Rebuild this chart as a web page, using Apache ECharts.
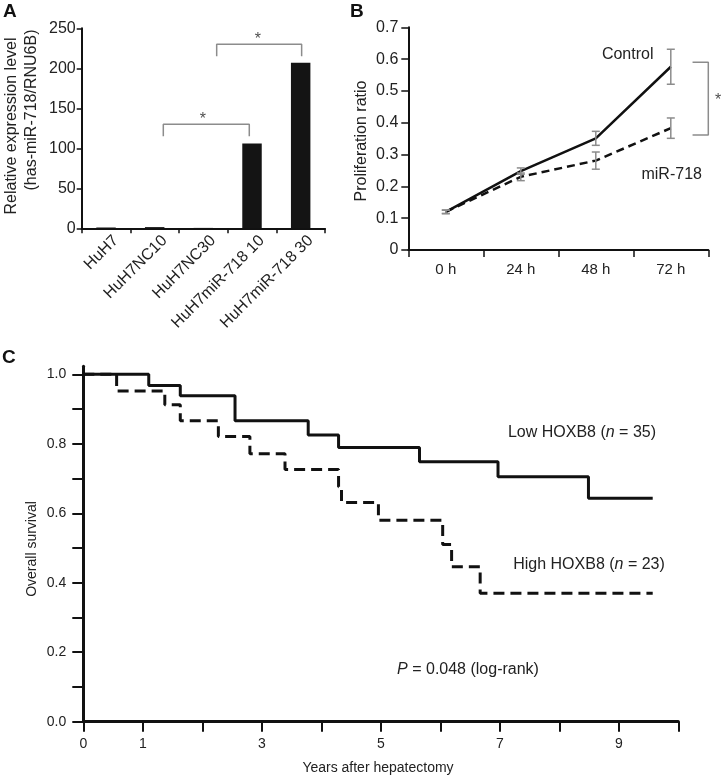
<!DOCTYPE html>
<html><head><meta charset="utf-8">
<script src="https://cdn.jsdelivr.net/npm/echarts@6/dist/echarts.min.js"></script>
<style>html,body{margin:0;padding:0;background:#fff}#c{width:722px;height:776px}</style>
</head><body><div id="c"></div>
<script>
const FONT = '"Liberation Sans", Arial, Helvetica, sans-serif';
const TXT = '#222';

// ---------- Panel A: relative expression ----------
const cellLines = ['HuH7', 'HuH7NC10', 'HuH7NC30', 'HuH7miR-718 10', 'HuH7miR-718 30'];
const expressionLevels = [1, 1.5, 0.5, 106, 207];
const expressionTicks = [0, 50, 100, 150, 200, 250];

// ---------- Panel B: proliferation ----------
const timePoints = ['0 h', '24 h', '48 h', '72 h'];
const controlRatio = [0.12, 0.248, 0.351, 0.576];
const controlError = [0.005, 0.010, 0.022, 0.055];
const mirRatio = [0.12, 0.230, 0.281, 0.383];
const mirError = [0.006, 0.012, 0.027, 0.032];
const ratioTicks = [0, 0.1, 0.2, 0.3, 0.4, 0.5, 0.6, 0.7];

// ---------- Panel C: Kaplan-Meier ----------
const lowYears    = [0, 1.10, 1.63, 2.55, 3.78, 4.29, 5.65, 6.97, 8.49, 9.57];
const lowSurvival = [1.0, 0.968, 0.938, 0.866, 0.825, 0.789, 0.748, 0.705, 0.643, 0.643];
const highYears    = [0, 0.56, 1.37, 1.63, 2.27, 2.80, 3.39, 4.29, 4.34, 4.96, 6.04, 6.19, 6.67, 9.57];
const highSurvival = [1.0, 0.952, 0.912, 0.866, 0.821, 0.771, 0.726, 0.676, 0.631, 0.580, 0.51, 0.446, 0.370, 0.370];
const survivalTicks = [0, 0.1, 0.2, 0.3, 0.4, 0.5, 0.6, 0.7, 0.8, 0.9, 1.0];
const survivalLabels = [0, 0.2, 0.4, 0.6, 0.8, 1.0];
const yearTicks = [0, 1, 2, 3, 4, 5, 6, 7, 8, 9, 10];
const yearLabels = [0, 1, 3, 5, 7, 9];

const GRAY = '#8c8c8c';

function errorBarItem(params, api) {
  const x = api.value(0), lo = api.value(1), hi = api.value(2);
  const a = api.coord([x, lo]), b = api.coord([x, hi]);
  const cap = 4;
  const style = { stroke: GRAY, lineWidth: 1.5, fill: null };
  return { type: 'group', children: [
    { type: 'line', shape: { x1: a[0], y1: a[1], x2: b[0], y2: b[1] }, style },
    { type: 'line', shape: { x1: a[0] - cap, y1: a[1], x2: a[0] + cap, y2: a[1] }, style },
    { type: 'line', shape: { x1: b[0] - cap, y1: b[1], x2: b[0] + cap, y2: b[1] }, style }
  ]};
}

const axisLineA = { show: true, lineStyle: { color: '#111', width: 2 } };
const axisLineC = { show: true, lineStyle: { color: '#111', width: 3 } };

const starLabel = { show: true, formatter: '*', position: 'inside', fontSize: 16, color: TXT, fontFamily: FONT };
const hiddenDot = { color: 'rgba(0,0,0,0)' };

const option = {
  animation: false,
  backgroundColor: '#fff',
  grid: [
    { left: 81.7, top: 28.3, width: 243.3, height: 200 },
    { left: 408.3, top: 27.3, width: 300, height: 222.7 },
    { left: 83.3, top: 366.3, width: 595, height: 355.4 }
  ],
  xAxis: [
    { gridIndex: 0, type: 'category', data: cellLines, boundaryGap: true,
      axisLine: axisLineA, axisTick: { show: true, length: 5, lineStyle: { color: '#111', width: 1.5 } },
      axisLabel: { rotate: 45, interval: 0, fontSize: 16, color: TXT, fontFamily: FONT, margin: 0,
        lineHeight: 28, formatter: v => '\n' + v },
      splitLine: { show: false } },
    { gridIndex: 0, type: 'value', min: 0, max: 5, show: false },
    { gridIndex: 1, type: 'category', data: timePoints, boundaryGap: true,
      axisLine: axisLineA, axisTick: { show: true, length: 7, lineStyle: { color: '#111', width: 1.5 } },
      axisLabel: { fontSize: 15, color: TXT, fontFamily: FONT, margin: 12 },
      splitLine: { show: false } },
    { gridIndex: 1, type: 'value', min: 0, max: 4, show: false },
    { gridIndex: 2, type: 'value', min: 0, max: 10, interval: 1,
      axisLine: axisLineC,
      axisTick: { show: true, length: 10, customValues: yearTicks, lineStyle: { color: '#111', width: 2 } },
      axisLabel: { customValues: yearLabels, fontSize: 14, color: TXT, fontFamily: FONT, margin: 15 },
      splitLine: { show: false } }
  ],
  yAxis: [
    { gridIndex: 0, type: 'value', min: 0, max: 250, interval: 50,
      axisLine: axisLineA, axisTick: { show: true, length: 5, lineStyle: { color: '#111', width: 1.5 } },
      axisLabel: { customValues: expressionTicks, fontSize: 16, color: TXT, fontFamily: FONT, margin: 6 },
      splitLine: { show: false } },
    { gridIndex: 1, type: 'value', min: 0, max: 0.7, interval: 0.1,
      axisLine: axisLineA, axisTick: { show: true, length: 7, lineStyle: { color: '#111', width: 1.5 } },
      axisLabel: { customValues: ratioTicks, fontSize: 16, color: TXT, fontFamily: FONT, margin: 10,
        formatter: v => (v === 0 ? '0' : (+v).toFixed(1)) },
      splitLine: { show: false } },
    { gridIndex: 2, type: 'value', min: 0, max: 1.023,
      axisLine: axisLineC,
      axisTick: { show: true, length: 11, customValues: survivalTicks, lineStyle: { color: '#111', width: 2 } },
      axisLabel: { customValues: survivalLabels, fontSize: 14, color: TXT, fontFamily: FONT, margin: 17,
        formatter: v => (+v).toFixed(1) },
      splitLine: { show: false } }
  ],
  series: [
    // A bars
    { type: 'bar', xAxisIndex: 0, yAxisIndex: 0, data: expressionLevels, barWidth: '40%',
      itemStyle: { color: '#141414' } },
    // A significance brackets
    { type: 'line', xAxisIndex: 1, yAxisIndex: 0, symbol: 'none', clip: false,
      data: [[1.677, 115], [1.677, 130], [3.444, 130], [3.444, 115]],
      lineStyle: { color: GRAY, width: 1.5 } },
    { type: 'line', xAxisIndex: 1, yAxisIndex: 0, symbol: 'none', clip: false,
      data: [[2.774, 215], [2.774, 230], [4.52, 230], [4.52, 215]],
      lineStyle: { color: GRAY, width: 1.5 } },
    { type: 'scatter', xAxisIndex: 1, yAxisIndex: 0, symbolSize: 1, itemStyle: hiddenDot, clip: false,
      data: [[2.49, 136], [3.62, 236]], label: starLabel },
    // B lines
    { name: 'Control', type: 'line', xAxisIndex: 2, yAxisIndex: 1, data: controlRatio, symbol: 'none',
      lineStyle: { color: '#111', width: 2.5 } },
    { name: 'miR-718', type: 'line', xAxisIndex: 2, yAxisIndex: 1, data: mirRatio, symbol: 'none',
      lineStyle: { color: '#111', width: 2.5, type: [8, 5] } },
    { type: 'custom', xAxisIndex: 2, yAxisIndex: 1, renderItem: errorBarItem, z: 5,
      encode: { x: 0, y: [1, 2] },
      data: controlRatio.map((v, i) => [i, v - controlError[i], v + controlError[i]]) },
    { type: 'custom', xAxisIndex: 2, yAxisIndex: 1, renderItem: errorBarItem, z: 5,
      encode: { x: 0, y: [1, 2] },
      data: mirRatio.map((v, i) => [i, v - mirError[i], v + mirError[i]]) },
    // B bracket
    { type: 'line', xAxisIndex: 3, yAxisIndex: 1, symbol: 'none', clip: false,
      data: [[3.79, 0.59], [4.0, 0.59], [4.0, 0.3615], [3.79, 0.3615]],
      lineStyle: { color: GRAY, width: 1.5 } },
    { type: 'scatter', xAxisIndex: 3, yAxisIndex: 1, symbolSize: 1, itemStyle: hiddenDot, clip: false,
      data: [[4.13, 0.47]], label: starLabel },
    // C Kaplan-Meier curves
    { name: 'Low HOXB8', type: 'line', xAxisIndex: 4, yAxisIndex: 2, step: 'end', symbol: 'none',
      data: lowYears.map((t, i) => [t, lowSurvival[i]]),
      lineStyle: { color: '#111', width: 3, cap: 'butt' } },
    { name: 'High HOXB8', type: 'line', xAxisIndex: 4, yAxisIndex: 2, step: 'end', symbol: 'none',
      data: highYears.map((t, i) => [t, highSurvival[i]]),
      lineStyle: { color: '#111', width: 3, type: [11, 6], cap: 'butt' } }
  ],
  graphic: [
    { type: 'text', left: 3, top: 2, style: { text: 'A', font: 'bold 19px ' + FONT, fill: '#111' } },
    { type: 'text', left: 350, top: 2, style: { text: 'B', font: 'bold 19px ' + FONT, fill: '#111' } },
    { type: 'text', left: 2, top: 348, style: { text: 'C', font: 'bold 19px ' + FONT, fill: '#111' } },
    { type: 'text', x: 12, y: 126, rotation: Math.PI / 2,
      style: { text: 'Relative expression level', font: '16px ' + FONT, fill: TXT, textAlign: 'center', textVerticalAlign: 'middle' } },
    { type: 'text', x: 31.5, y: 110, rotation: Math.PI / 2,
      style: { text: '(has-miR-718/RNU6B)', font: '16px ' + FONT, fill: TXT, textAlign: 'center', textVerticalAlign: 'middle' } },
    { type: 'text', x: 362, y: 141, rotation: Math.PI / 2,
      style: { text: 'Proliferation ratio', font: '16px ' + FONT, fill: TXT, textAlign: 'center', textVerticalAlign: 'middle' } },
    { type: 'text', x: 627.7, y: 55,
      style: { text: 'Control', font: '16px ' + FONT, fill: TXT, textAlign: 'center', textVerticalAlign: 'middle' } },
    { type: 'text', x: 671.7, y: 175,
      style: { text: 'miR-718', font: '16px ' + FONT, fill: TXT, textAlign: 'center', textVerticalAlign: 'middle' } },
    { type: 'text', x: 582, y: 433,
      style: { text: 'Low HOXB8 ({i|n} = 35)', font: '16px ' + FONT, fill: TXT, textAlign: 'center', textVerticalAlign: 'middle',
        rich: { i: { fontStyle: 'italic', fontSize: 16, fontFamily: FONT, fill: TXT } } } },
    { type: 'text', x: 589, y: 565,
      style: { text: 'High HOXB8 ({i|n} = 23)', font: '16px ' + FONT, fill: TXT, textAlign: 'center', textVerticalAlign: 'middle',
        rich: { i: { fontStyle: 'italic', fontSize: 16, fontFamily: FONT, fill: TXT } } } },
    { type: 'text', x: 468, y: 670,
      style: { text: '{i|P} = 0.048 (log-rank)', font: '16px ' + FONT, fill: TXT, textAlign: 'center', textVerticalAlign: 'middle',
        rich: { i: { fontStyle: 'italic', fontSize: 16, fontFamily: FONT, fill: TXT } } } },
    { type: 'text', x: 32.5, y: 549, rotation: Math.PI / 2,
      style: { text: 'Overall survival', font: '14px ' + FONT, fill: TXT, textAlign: 'center', textVerticalAlign: 'middle' } },
    { type: 'text', x: 378, y: 768,
      style: { text: 'Years after hepatectomy', font: '14px ' + FONT, fill: TXT, textAlign: 'center', textVerticalAlign: 'middle' } }
  ]
};

const chart = echarts.init(document.getElementById('c'), null, { renderer: 'canvas' });
chart.setOption(option);
</script>
</body></html>
